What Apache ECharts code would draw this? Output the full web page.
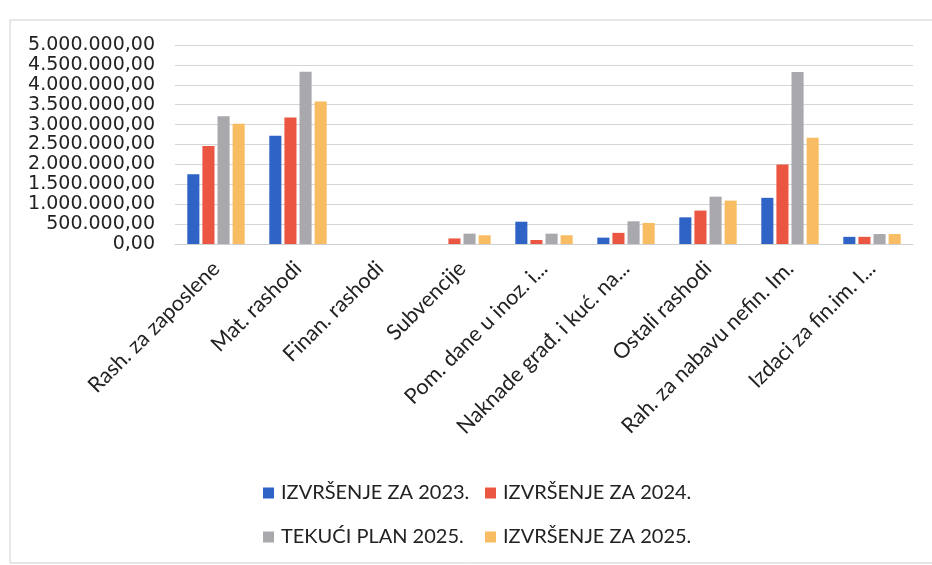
<!DOCTYPE html>
<html>
<head>
<meta charset="utf-8">
<script src="https://cdn.jsdelivr.net/npm/echarts@6/dist/echarts.min.js"></script>
<style>
  html, body { margin: 0; padding: 0; background: #fff; }
  #box { width: 932px; height: 565px; }
</style>
</head>
<body>
<div id="box"></div>
<script>
var categories = ['Rash. za zaposlene', 'Mat. rashodi', 'Finan. rashodi', 'Subvencije',
  'Pom. dane u inoz. i...', 'Naknade građ. i kuć. na...', 'Ostali rashodi',
  'Rah. za nabavu nefin. Im.', 'Izdaci za fin.im. I...'];
var seriesNames = ['IZVRŠENJE ZA 2023.', 'IZVRŠENJE ZA 2024.', 'TEKUĆI PLAN 2025.', 'IZVRŠENJE ZA 2025.'];
var izvrsenje2023 = [1750000, 2720000, 0, 0, 560000, 160000, 670000, 1160000, 180000];
var izvrsenje2024 = [2460000, 3180000, 0, 140000, 100000, 280000, 840000, 2000000, 180000];
var plan2025 = [3210000, 4330000, 0, 260000, 260000, 570000, 1190000, 4320000, 250000];
var izvrsenje2025 = [3020000, 3580000, 0, 220000, 220000, 530000, 1090000, 2670000, 250000];
var colors = ['#2f63c6', '#ea5641', '#a8a8ad', '#f8bd62'];

var font = 'Lato';

function fmt(v) {
  var s = Math.round(v).toString().replace(/\B(?=(\d{3})+(?!\d))/g, '.');
  return s + ',00';
}

var dom = document.getElementById('box');
var myChart = echarts.init(dom);

var allData = [izvrsenje2023, izvrsenje2024, plan2025, izvrsenje2025];
var series = allData.map(function (d, i) {
  return {
    name: seriesNames[i],
    type: 'bar',
    data: d,
    barGap: '25%',
    barCategoryGap: '30%',
    itemStyle: { color: colors[i] }
  };
});

// legend laid out like the excel 2x2 grid
var legendPos = [[263, 483], [485, 483], [263, 527], [485, 527]];
var legends = seriesNames.map(function (n, i) {
  return {
    data: [n],
    left: legendPos[i][0],
    top: legendPos[i][1],
    itemWidth: 11,
    itemHeight: 11,
    itemGap: 0,
    icon: 'rect',
    padding: 0,
    textStyle: { fontFamily: font, fontSize: 20, color: '#222', padding: [0, 0, 0, 2] }
  };
});

var option = {
  animation: false,
  color: colors,
  graphic: [{
    type: 'rect',
    shape: { x: 10, y: 20, width: 940, height: 543 },
    style: { fill: 'none', stroke: '#cfcfcf', lineWidth: 1 }
  }],
  legend: legends,
  grid: { left: 175, right: 19, top: 45, bottom: 321, containLabel: false },
  xAxis: {
    type: 'category',
    data: categories,
    axisTick: { show: false },
    axisLine: { lineStyle: { color: '#d0d0d0' } },
    axisLabel: {
      rotate: 45,
      interval: 0,
      margin: 21,
      fontFamily: font,
      fontSize: 21.5,
      color: '#222'
    }
  },
  yAxis: {
    type: 'value',
    min: 0,
    max: 5000000,
    interval: 500000,
    axisLabel: {
      formatter: fmt,
      margin: 20,
      fontFamily: 'DejaVu Sans',
      fontSize: 19,
      color: '#222',
      showMinLabel: true,
      showMaxLabel: true,
      hideOverlap: false
    },
    splitLine: { lineStyle: { color: '#d6d6d6' } }
  },
  series: series
};

myChart.setOption(option);
</script>
</body>
</html>
